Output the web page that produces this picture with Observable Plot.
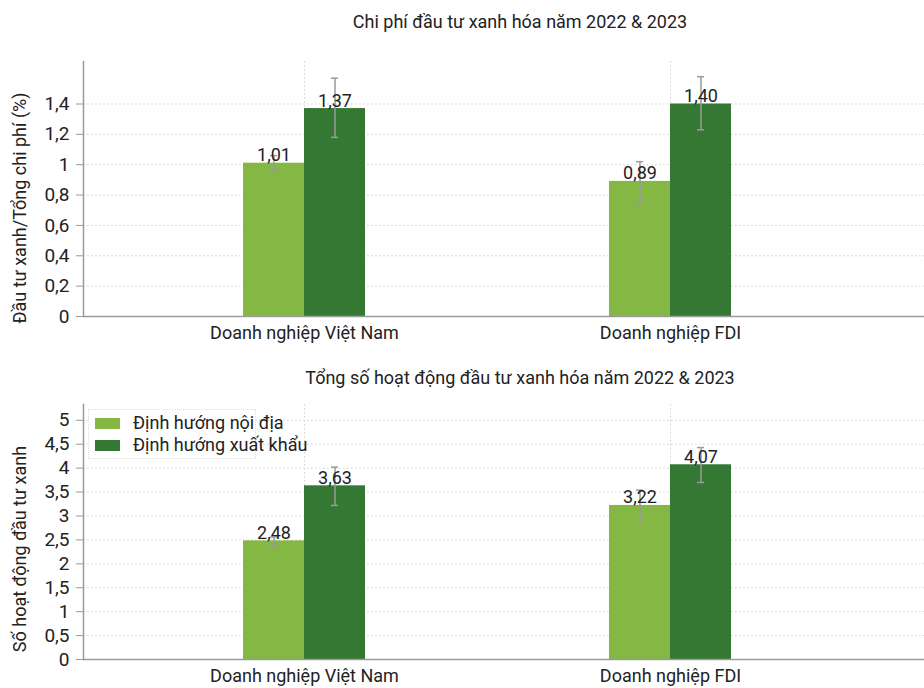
<!DOCTYPE html>
<html><head><meta charset="utf-8">
<script src="https://cdn.jsdelivr.net/npm/d3@7"></script>
<script src="https://cdn.jsdelivr.net/npm/@observablehq/plot@0.6"></script>
<style>
body{margin:0;background:#fff;font-family:Roboto, sans-serif;}
#wrap{position:relative;width:924px;height:688px;overflow:hidden;background:#fff;}
.title{position:absolute;left:0;width:1040px;text-align:center;font-size:18px;color:#222;line-height:20px;}
.ylab{position:absolute;width:320px;text-align:center;font-size:18px;color:#222;line-height:22px;transform:rotate(-90deg);transform-origin:center;}
.chart{position:absolute;left:0;width:924px;}
.chart svg{position:absolute;left:0;top:0;}
.legend{position:absolute;left:88px;top:409px;width:168px;height:50px;border:1px dotted #ddd;box-sizing:border-box;background:#fff;}
.li{position:absolute;left:6px;font-size:18px;color:#222;line-height:22px;white-space:nowrap;}
.sw{display:inline-block;width:25px;height:11px;margin-right:13px;vertical-align:middle;position:relative;top:-1px;}
</style></head>
<body>
<div id="wrap">
  <div class="title" style="top:12px">Chi phí đầu tư xanh hóa năm 2022 &amp; 2023</div>
  <div class="ylab" style="left:-140px;top:197px">Đầu tư xanh/Tổng chi phí (%)</div>
  <div class="chart" id="c1" style="top:40px"></div>
  <div class="title" style="top:368px">Tổng số hoạt động đầu tư xanh hóa năm 2022 &amp; 2023</div>
  <div class="ylab" style="left:-140px;top:538px">Số hoạt động đầu tư xanh</div>
  <div class="chart" id="c2" style="top:388px"></div>
  <div class="legend" id="legend"></div>
</div>
<script>
const categories = ["Doanh nghiệp Việt Nam", "Doanh nghiệp FDI"];
const seriesNames = ["Định hướng nội địa", "Định hướng xuất khẩu"];
const seriesColors = ["#84b743", "#347834"];

const costDomestic = [1.01, 0.89];
const costExport = [1.37, 1.40];
const costDomesticLow = [0.96, 0.75];
const costDomesticHigh = [1.06, 1.02];
const costExportLow = [1.18, 1.23];
const costExportHigh = [1.57, 1.58];
const costTicks = [0, 0.2, 0.4, 0.6, 0.8, 1, 1.2, 1.4];

const countDomestic = [2.48, 3.22];
const countExport = [3.63, 4.07];
const countDomesticLow = [2.37, 2.88];
const countDomesticHigh = [2.56, 3.54];
const countExportLow = [3.22, 3.70];
const countExportHigh = [4.02, 4.43];
const countTicks = [0, 0.5, 1, 1.5, 2, 2.5, 3, 3.5, 4, 4.5, 5];

function rows(dom, exp, domLo, domHi, expLo, expHi) {
  const out = [];
  categories.forEach((c, i) => {
    out.push({cat: c, series: seriesNames[0], value: dom[i], low: domLo[i], high: domHi[i]});
    out.push({cat: c, series: seriesNames[1], value: exp[i], low: expLo[i], high: expHi[i]});
  });
  return out;
}
const fmt2 = v => v.toFixed(2).replace(".", ",");
const fmtTick = v => String(v).replace(".", ",");
const gridStyle = {stroke: "#d0d0d0", strokeOpacity: 1, strokeDasharray: "1.5,2.5"};
const axisColor = "#9a9a9a";

function chart(host, data, yMax, ticks, height, marginTop) {
  const common = {
    width: 924, height,
    marginTop, marginBottom: 29, marginLeft: 83, marginRight: 0,
    style: {fontFamily: "Roboto, sans-serif", color: "#222", background: "transparent", overflow: "visible"}
  };
  const back = Plot.plot({
    ...common,
    y: {domain: [0, yMax], axis: null},
    marks: [Plot.gridY(ticks, gridStyle)]
  });
  const main = Plot.plot({
    ...common,
    fx: {domain: categories, paddingInner: 0, paddingOuter: 0.1489, align: 0.3486, label: null},
    x: {domain: seriesNames, paddingInner: 0, paddingOuter: 2, axis: null},
    y: {domain: [0, yMax], axis: null},
    color: {domain: seriesNames, range: seriesColors},
    marks: [
      Plot.gridFx(gridStyle),
      Plot.barY(data, {fx: "cat", x: "series", y: "value", fill: "series"}),
      Plot.ruleX(data, {fx: "cat", x: "series", y1: "low", y2: "high", stroke: axisColor, strokeWidth: 1.5}),
      Plot.tickY(data, {fx: "cat", x: "series", y: "low", stroke: axisColor, strokeWidth: 1.5, insetLeft: 27, insetRight: 27}),
      Plot.tickY(data, {fx: "cat", x: "series", y: "high", stroke: axisColor, strokeWidth: 1.5, insetLeft: 27, insetRight: 27}),
      Plot.text(data, {fx: "cat", x: "series", y: "value", text: d => fmt2(d.value), lineAnchor: "bottom", dy: -2, fontSize: 18, fill: "#222"}),
      Plot.axisFx({anchor: "bottom", tickSize: 0, tickPadding: 10, fontSize: 18, label: null})
    ]
  });
  const front = Plot.plot({
    ...common,
    y: {domain: [0, yMax], axis: null},
    marks: [
      Plot.axisY(ticks, {tickFormat: fmtTick, tickSize: 7, tickPadding: 7, fontSize: 19, label: null, stroke: axisColor, fill: "#222"}),
      Plot.ruleY([0], {stroke: axisColor, strokeWidth: 1.5}),
      Plot.frame({anchor: "left", stroke: axisColor, strokeWidth: 1.5})
    ]
  });
  host.appendChild(back);
  host.appendChild(main);
  host.appendChild(front);
}

const costData = rows(costDomestic, costExport, costDomesticLow, costDomesticHigh, costExportLow, costExportHigh);
const countData = rows(countDomestic, countExport, countDomesticLow, countDomesticHigh, countExportLow, countExportHigh);

chart(document.getElementById("c1"), costData, 1.68, costTicks, 305, 21);
chart(document.getElementById("c2"), countData, 5.33, countTicks, 300, 16);

const lg = document.getElementById("legend");
seriesNames.forEach((s, i) => {
  const d = document.createElement("div");
  d.className = "li";
  d.style.top = (i === 0 ? 2 : 24) + "px";
  d.innerHTML = `<span class="sw" style="background:${seriesColors[i]}"></span>${s}`;
  lg.appendChild(d);
});
</script>
</body></html>
